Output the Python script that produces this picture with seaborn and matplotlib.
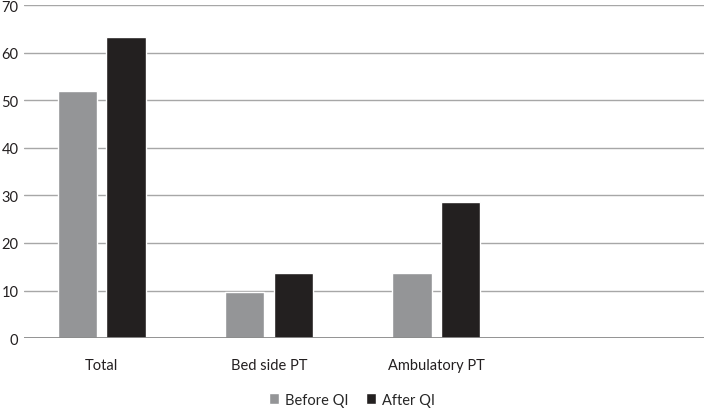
import pandas as pd
import matplotlib
matplotlib.use('Agg')
import matplotlib.pyplot as plt
import seaborn as sns

# Data
categories = ['Total', 'Bed side PT', 'Ambulatory PT']
before_qi = [52.0, 9.7, 13.6]
after_qi = [63.3, 13.6, 28.7]
series_names = ['Before QI', 'After QI']

df = pd.DataFrame({
    'Category': categories * 2,
    'Group': [series_names[0]] * 3 + [series_names[1]] * 3,
    'Value': before_qi + after_qi,
})

sns.set_style('white')
plt.rcParams['font.family'] = ['Lato', 'DejaVu Sans']

fig = plt.figure(figsize=(7.04, 4.10), dpi=100)
ax = fig.add_axes([0.034, 0.173, 0.966, 0.812])

sns.barplot(data=df, x='Category', y='Value', hue='Group',
            palette=['#939598', '#231f20'], width=0.58, gap=0.19,
            ax=ax, legend=True)

# Gridlines
for yv in range(10, 80, 10):
    ax.axhline(yv, color='#a7a7a7', lw=1.0, zorder=0)
ax.axhline(0, color='#8a8a8a', lw=1.3, zorder=3)

ax.set_ylim(0, 70)
ax.set_xlim(-0.465, 3.6)
ax.set_yticks(range(0, 80, 10))
ax.set_xlabel('')
ax.set_ylabel('')
for s in ax.spines.values():
    s.set_visible(False)
ax.tick_params(axis='x', length=0, pad=14, labelsize=10.5, colors='#231f20')
ax.tick_params(axis='y', length=0, pad=4, labelsize=10.5, colors='#231f20')

leg = ax.legend(loc='center', bbox_to_anchor=(0.5 - 0.034 / 0.966 * 0.5, -0.185),
                ncol=2, frameon=False, fontsize=10.5, handlelength=0.7,
                handleheight=0.7, columnspacing=1.2, handletextpad=0.4)

fig.savefig('out.png', dpi=100)
